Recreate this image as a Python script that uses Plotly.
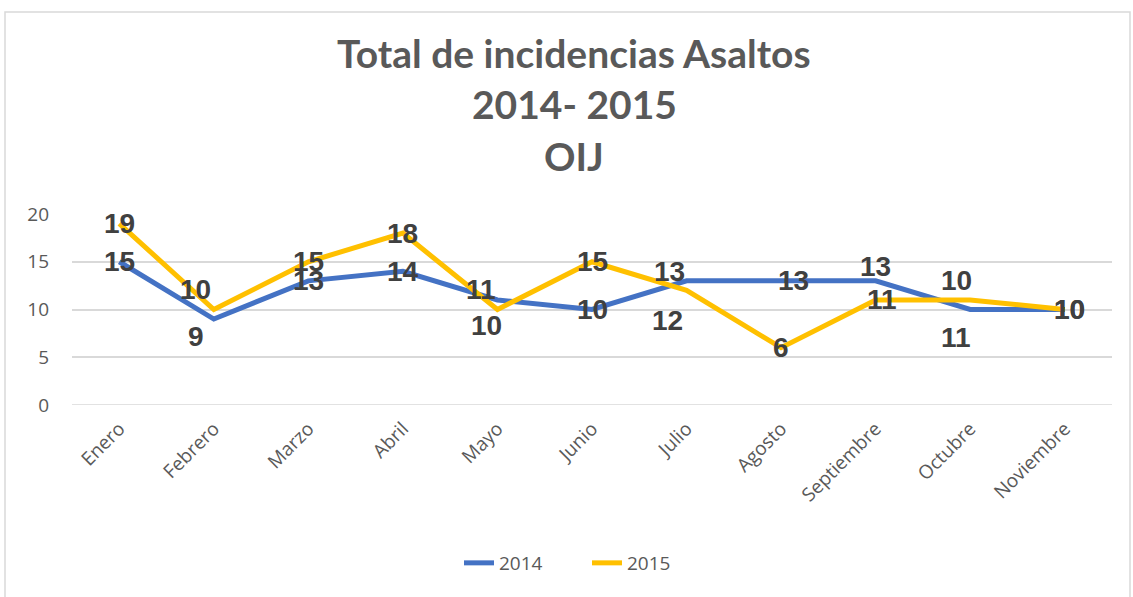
import plotly.graph_objects as go

meses = ["Enero", "Febrero", "Marzo", "Abril", "Mayo", "Junio", "Julio",
         "Agosto", "Septiembre", "Octubre", "Noviembre"]
v2014 = [15, 9, 13, 14, 11, 10, 13, 13, 13, 10, 10]
v2015 = [19, 10, 15, 18, 10, 15, 12, 6, 11, 11, 10]

# label offsets (pixels) relative to each point
off2014 = [(0, 0), (-18, -17), (0, 0), (0, 0), (-16, 10), (0, 0), (-17, 9),
           (12, 0), (0, 14), (-14, 29), (5, 0)]
off2015 = [(0, 0), (-18, 20), (0, 0), (0, 0), (-11, -16), (0, 0), (-19, -30),
           (0, 0), (6, 0), (-14, -38), (5, 0)]

C14 = "#4472C4"
C15 = "#FFC000"
FONT = "Open Sans, sans-serif"
TFONT = "Lato, Open Sans, sans-serif"

fig = go.Figure()
fig.add_trace(go.Scatter(x=meses, y=v2014, mode="lines", name="2014",
                         line=dict(color=C14, width=5)))
fig.add_trace(go.Scatter(x=meses, y=v2015, mode="lines", name="2015",
                         line=dict(color=C15, width=5)))

annotations = []
for vals, offs in ((v2014, off2014), (v2015, off2015)):
    for m, v, (dx, dy) in zip(meses, vals, offs):
        annotations.append(dict(x=m, y=v, xref="x", yref="y", text=str(v),
                                showarrow=False, xshift=dx, yshift=dy,
                                font=dict(family="Liberation Sans, Arial", size=28,
                                          color="#404040", weight="bold")))

L, R, T, B = 72, 21, 214, 192
W, H = 1133, 597
pw, ph = W - L - R, H - T - B

def py(pix):
    return (H - B - pix) / ph

def px(pix):
    return (pix - L) / pw

titles = ["Total de incidencias Asaltos", "2014- 2015", "OIJ"]
for t, yy in zip(titles, [53, 104, 156]):
    annotations.append(dict(x=px(574), y=py(yy), xref="paper", yref="paper",
                            text=t, showarrow=False, xanchor="center", yanchor="middle",
                            font=dict(family=TFONT, size=39, color="#595959", weight="bold")))

fig.update_layout(
    width=W, height=H,
    margin=dict(l=L, r=R, t=T, b=B),
    paper_bgcolor="white", plot_bgcolor="white",
    showlegend=True,
    legend=dict(orientation="h", x=px(587), y=py(563), xanchor="center", yanchor="middle",
                entrywidth=83, entrywidthmode="pixels",
                font=dict(family=FONT, size=19, color="#595959")),
    annotations=annotations,
    shapes=[dict(type="rect", xref="paper", yref="paper",
                 x0=px(5), x1=px(1130), y0=py(600), y1=py(12),
                 line=dict(color="#D9D9D9", width=1.5), fillcolor="rgba(0,0,0,0)",
                 layer="below")],
    xaxis=dict(showgrid=False, showline=False, zeroline=False, tickangle=-45,
               range=[-0.5, len(meses) - 0.5], ticklabelstandoff=8,
               tickfont=dict(family=FONT, size=19, color="#595959"), ticks=""),
    yaxis=dict(range=[0, 20], dtick=5, showgrid=True, gridcolor="#D9D9D9", gridwidth=1.5,
               zeroline=False, showline=False, ticks="", ticklabelstandoff=22,
               tickfont=dict(family=FONT, size=19, color="#595959")),
)
fig.add_hline(y=0, line=dict(color="#D9D9D9", width=1.5), layer="below")

fig.write_html("out.html", post_script="document.body.style.margin='0';",
               config={"displayModeBar": False})
